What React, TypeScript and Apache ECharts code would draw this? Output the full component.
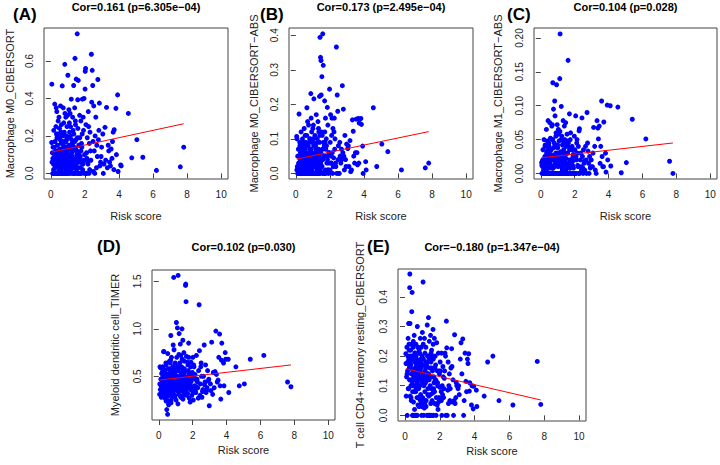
import React, { useEffect, useRef } from "react";
import * as echarts from "echarts";

// Shared risk score (x) for all panels
const riskScore = [
  4.10, 4.13, 4.55, 4.75, 5.05, 5.40, 6.20, 7.60, 7.80, 3.92,
  3.85, 3.82, 3.72, 3.66, 3.59, 3.54, 3.45, 3.37, 3.32, 3.27,
  3.18, 3.12, 3.05, 3.95, 3.62, 3.40, 3.22, 3.08, 3.70, 3.50,
  2.98, 2.92, 2.85, 2.79, 2.76, 2.73, 2.68, 2.64, 2.60, 2.55,
  2.50, 2.46, 2.43, 2.38, 2.35, 2.30, 2.26, 2.22, 2.18, 2.14,
  2.10, 2.06, 2.04, 2.01, 2.95, 2.88, 2.70, 2.58, 2.40, 2.28,
  2.20, 2.12, 2.08, 2.02, 2.82, 2.52, 2.33, 2.24, 2.16, 2.48,
  1.98, 1.95, 1.92, 1.88, 1.85, 1.82, 1.79, 1.76, 1.73, 1.70,
  1.69, 1.67, 1.64, 1.63, 1.61, 1.59, 1.58, 1.55, 1.53, 1.51,
  1.49, 1.48, 1.47, 1.45, 1.43, 1.42, 1.40, 1.39, 1.37, 1.35,
  1.34, 1.32, 1.30, 1.28, 1.26, 1.24, 1.22, 1.20, 1.18, 1.16,
  1.14, 1.12, 1.10, 1.08, 1.06, 1.04, 1.02, 1.00, 1.96, 1.90,
  1.86, 1.80, 1.74, 1.66, 1.56, 1.50, 1.44, 1.36, 1.27, 1.21,
  1.15, 1.09, 1.03, 1.93, 1.77, 1.62, 1.52, 1.41, 1.31, 1.19,
  1.11, 1.05, 1.84, 1.72, 1.57, 1.46, 1.33, 1.23, 1.13, 1.01,
  0.99, 0.97, 0.95, 0.93, 0.92, 0.90, 0.88, 0.86, 0.84, 0.82,
  0.81, 0.79, 0.77, 0.75, 0.73, 0.71, 0.69, 0.67, 0.65, 0.63,
  0.61, 0.59, 0.57, 0.55, 0.53, 0.51, 0.49, 0.47, 0.45, 0.43,
  0.41, 0.39, 0.37, 0.35, 0.33, 0.31, 0.29, 0.27, 0.25, 0.23,
  0.21, 0.19, 0.17, 0.15, 0.13, 0.11, 0.09, 0.07, 0.06, 0.05,
  0.98, 0.94, 0.89, 0.85, 0.80, 0.76, 0.72, 0.68, 0.64, 0.60,
  0.56, 0.52, 0.48, 0.44, 0.40, 0.36, 0.32, 0.28, 0.24, 0.20,
  0.96, 0.91, 0.87, 0.83, 0.78, 0.74, 0.70, 0.66, 0.62, 0.58,
  0.54, 0.50, 0.46, 0.42, 0.38, 0.34, 0.30, 0.26, 0.22, 0.18,
  1.07, 0.97, 0.88, 0.79, 0.70, 0.61, 0.52, 0.43, 0.34, 0.25,
  1.17, 1.25, 1.29, 1.38, 0.91, 0.82, 0.73, 0.64, 0.55, 0.46,
  0.16, 0.12, 0.37, 0.58, 0.77, 0.95, 1.13, 1.32, 1.54, 1.71,
  0.30, 0.44, 0.62, 0.85, 1.03, 1.21, 1.43, 1.65, 1.87, 2.09,
];

// (A) Macrophage M0_CIBERSORT
const macrophageM0 = [
  0.045, 0.040, 0.320, 0.083, 0.180, 0.086, 0.016, 0.035, 0.140, 0.419,
  0.100, 0.347, 0.233, 0.220, 0.080, 0.130, 0.060, 0.150, 0.030, 0.352,
  0.246, 0.050, 0.210, 0.010, 0.170, 0.120, 0.070, 0.000, 0.020, 0.040,
  0.140, 0.060, 0.375, 0.180, 0.501, 0.090, 0.030, 0.300, 0.200, 0.120,
  0.010, 0.469, 0.550, 0.636, 0.070, 0.220, 0.160, 0.250, 0.050, 0.190,
  0.110, 0.260, 0.560, 0.450, 0.090, 0.040, 0.150, 0.000, 0.380, 0.020,
  0.330, 0.080, 0.000, 0.545, 0.230, 0.360, 0.120, 0.000, 0.060, 0.170,
  0.100, 0.400, 0.230, 0.050, 0.396, 0.140, 0.000, 0.280, 0.090, 0.190,
  0.310, 0.060, 0.150, 0.000, 0.496, 0.240, 0.393, 0.745, 0.120, 0.020,
  0.503, 0.180, 0.080, 0.260, 0.000, 0.614, 0.350, 0.070, 0.140, 0.210,
  0.469, 0.030, 0.120, 0.300, 0.090, 0.000, 0.180, 0.396, 0.050, 0.250,
  0.130, 0.000, 0.220, 0.060, 0.340, 0.100, 0.010, 0.524, 0.000, 0.300,
  0.050, 0.160, 0.000, 0.110, 0.190, 0.040, 0.280, 0.000, 0.150, 0.080,
  0.200, 0.270, 0.040, 0.070, 0.120, 0.000, 0.100, 0.170, 0.230, 0.010,
  0.090, 0.150, 0.210, 0.030, 0.060, 0.130, 0.000, 0.110, 0.320, 0.190,
  0.000, 0.120, 0.250, 0.060, 0.180, 0.030, 0.300, 0.090, 0.000, 0.582,
  0.140, 0.220, 0.000, 0.070, 0.350, 0.110, 0.040, 0.467, 0.200, 0.000,
  0.160, 0.080, 0.360, 0.000, 0.130, 0.240, 0.020, 0.190, 0.100, 0.280,
  0.000, 0.150, 0.060, 0.330, 0.210, 0.000, 0.120, 0.040, 0.170, 0.370,
  0.090, 0.000, 0.230, 0.050, 0.140, 0.000, 0.110, 0.060, 0.476, 0.165,
  0.310, 0.000, 0.170, 0.040, 0.100, 0.270, 0.000, 0.130, 0.060, 0.220,
  0.010, 0.110, 0.300, 0.070, 0.000, 0.190, 0.350, 0.080, 0.000, 0.140,
  0.080, 0.200, 0.000, 0.320, 0.050, 0.150, 0.090, 0.000, 0.260, 0.030,
  0.180, 0.000, 0.120, 0.210, 0.040, 0.000, 0.250, 0.100, 0.070, 0.000,
  0.060, 0.140, 0.020, 0.100, 0.170, 0.000, 0.050, 0.120, 0.080, 0.030,
  0.040, 0.160, 0.070, 0.000, 0.110, 0.030, 0.200, 0.050, 0.090, 0.010,
  0.020, 0.080, 0.000, 0.040, 0.060, 0.080, 0.030, 0.050, 0.000, 0.070,
  0.100, 0.050, 0.020, 0.130, 0.000, 0.060, 0.040, 0.090, 0.020, 0.000,
];

// (B) Macrophage M0_CIBERSORT-ABS
const macrophageM0Abs = [
  0.034, 0.010, 0.190, 0.020, 0.085, 0.063, 0.010, 0.016, 0.030, 0.079,
  0.142, 0.159, 0.146, 0.159, 0.060, 0.157, 0.030, 0.122, 0.155, 0.010,
  0.095, 0.020, 0.072, 0.000, 0.025, 0.050, 0.005, 0.080, 0.030, 0.060,
  0.085, 0.040, 0.010, 0.186, 0.060, 0.254, 0.070, 0.030, 0.050, 0.000,
  0.080, 0.180, 0.227, 0.366, 0.020, 0.100, 0.160, 0.045, 0.130, 0.060,
  0.110, 0.030, 0.170, 0.010, 0.020, 0.110, 0.040, 0.090, 0.000, 0.070,
  0.020, 0.160, 0.050, 0.090, 0.050, 0.000, 0.030, 0.120, 0.000, 0.040,
  0.244, 0.060, 0.000, 0.140, 0.191, 0.030, 0.100, 0.070, 0.010, 0.120,
  0.210, 0.080, 0.000, 0.050, 0.313, 0.040, 0.404, 0.110, 0.280, 0.020,
  0.227, 0.327, 0.060, 0.336, 0.000, 0.394, 0.090, 0.223, 0.030, 0.120,
  0.070, 0.000, 0.150, 0.040, 0.100, 0.010, 0.060, 0.170, 0.000, 0.080,
  0.030, 0.110, 0.000, 0.050, 0.216, 0.090, 0.020, 0.130, 0.060, 0.010,
  0.040, 0.080, 0.160, 0.000, 0.070, 0.120, 0.010, 0.050, 0.090, 0.000,
  0.060, 0.000, 0.140, 0.030, 0.000, 0.090, 0.040, 0.110, 0.000, 0.070,
  0.020, 0.080, 0.050, 0.090, 0.000, 0.030, 0.130, 0.040, 0.000, 0.100,
  0.050, 0.000, 0.090, 0.120, 0.030, 0.160, 0.231, 0.000, 0.070, 0.040,
  0.100, 0.010, 0.060, 0.140, 0.000, 0.080, 0.150, 0.030, 0.190, 0.050,
  0.000, 0.090, 0.040, 0.110, 0.000, 0.060, 0.130, 0.020, 0.080, 0.000,
  0.050, 0.100, 0.000, 0.070, 0.030, 0.120, 0.000, 0.060, 0.040, 0.090,
  0.000, 0.172, 0.030, 0.070, 0.000, 0.050, 0.020, 0.100, 0.010, 0.107,
  0.000, 0.060, 0.030, 0.100, 0.050, 0.000, 0.080, 0.020, 0.110, 0.000,
  0.070, 0.000, 0.040, 0.090, 0.010, 0.060, 0.000, 0.030, 0.080, 0.000,
  0.020, 0.070, 0.000, 0.040, 0.090, 0.010, 0.050, 0.000, 0.030, 0.060,
  0.000, 0.040, 0.080, 0.000, 0.020, 0.060, 0.010, 0.000, 0.050, 0.030,
  0.040, 0.000, 0.020, 0.060, 0.000, 0.030, 0.010, 0.050, 0.000, 0.020,
  0.000, 0.050, 0.020, 0.000, 0.040, 0.010, 0.000, 0.030, 0.060, 0.000,
  0.010, 0.000, 0.030, 0.000, 0.020, 0.010, 0.040, 0.000, 0.020, 0.050,
  0.000, 0.020, 0.010, 0.030, 0.000, 0.040, 0.020, 0.000, 0.010, 0.030,
];

// (C) Macrophage M1_CIBERSORT-ABS
const macrophageM1Abs = [
  0.100, 0.011, 0.098, 0.001, 0.016, 0.080, 0.051, 0.018, 0.000, 0.101,
  0.002, 0.030, 0.076, 0.010, 0.107, 0.040, 0.070, 0.067, 0.078, 0.000,
  0.040, 0.068, 0.010, 0.020, 0.025, 0.051, 0.005, 0.030, 0.010, 0.015,
  0.020, 0.008, 0.000, 0.033, 0.045, 0.090, 0.020, 0.040, 0.005, 0.015,
  0.000, 0.025, 0.082, 0.010, 0.030, 0.000, 0.063, 0.040, 0.012, 0.050,
  0.020, 0.085, 0.000, 0.035, 0.010, 0.025, 0.000, 0.018, 0.005, 0.066,
  0.010, 0.045, 0.025, 0.000, 0.015, 0.035, 0.020, 0.000, 0.030, 0.008,
  0.055, 0.000, 0.028, 0.012, 0.040, 0.000, 0.020, 0.060, 0.008, 0.035,
  0.088, 0.015, 0.000, 0.045, 0.167, 0.010, 0.030, 0.058, 0.000, 0.022,
  0.040, 0.005, 0.075, 0.000, 0.028, 0.050, 0.012, 0.070, 0.000, 0.035,
  0.018, 0.078, 0.000, 0.042, 0.008, 0.055, 0.025, 0.000, 0.032, 0.015,
  0.206, 0.140, 0.000, 0.048, 0.020, 0.065, 0.010, 0.038, 0.000, 0.025,
  0.018, 0.000, 0.050, 0.010, 0.030, 0.000, 0.022, 0.045, 0.005, 0.099,
  0.000, 0.030, 0.058, 0.008, 0.000, 0.040, 0.015, 0.000, 0.028, 0.050,
  0.012, 0.000, 0.035, 0.020, 0.048, 0.000, 0.025, 0.010, 0.062, 0.000,
  0.042, 0.072, 0.000, 0.131, 0.020, 0.060, 0.030, 0.000, 0.085, 0.107,
  0.010, 0.045, 0.000, 0.095, 0.025, 0.134, 0.050, 0.008, 0.070, 0.000,
  0.035, 0.000, 0.052, 0.018, 0.075, 0.000, 0.040, 0.028, 0.000, 0.078,
  0.015, 0.048, 0.000, 0.030, 0.065, 0.005, 0.022, 0.000, 0.040, 0.012,
  0.000, 0.050, 0.020, 0.000, 0.035, 0.010, 0.018, 0.000, 0.012, 0.016,
  0.025, 0.000, 0.055, 0.012, 0.000, 0.038, 0.008, 0.072, 0.000, 0.028,
  0.000, 0.020, 0.045, 0.000, 0.015, 0.032, 0.000, 0.010, 0.025, 0.005,
  0.030, 0.000, 0.015, 0.040, 0.000, 0.022, 0.050, 0.000, 0.012, 0.035,
  0.008, 0.025, 0.000, 0.018, 0.030, 0.000, 0.010, 0.042, 0.000, 0.020,
  0.000, 0.015, 0.028, 0.000, 0.010, 0.020, 0.000, 0.035, 0.005, 0.000,
  0.022, 0.000, 0.012, 0.030, 0.000, 0.018, 0.008, 0.000, 0.025, 0.010,
  0.005, 0.020, 0.000, 0.012, 0.000, 0.028, 0.000, 0.015, 0.000, 0.008,
  0.018, 0.000, 0.010, 0.000, 0.022, 0.000, 0.012, 0.000, 0.018, 0.000,
];

// (D) Myeloid dendritic cell_TIMER
const myeloidDC = [
  0.680, 0.330, 0.600, 0.400, 0.420, 0.680, 0.720, 0.440, 0.390, 0.750,
  0.400, 0.640, 0.850, 0.260, 0.945, 0.700, 0.440, 0.977, 0.550, 0.380,
  0.310, 0.860, 0.420, 0.680, 0.400, 0.520, 0.540, 0.350, 0.670, 0.460,
  0.190, 0.450, 0.380, 0.330, 0.620, 0.440, 0.830, 0.500, 0.360, 0.280,
  0.640, 0.420, 0.300, 1.254, 0.560, 0.380, 0.470, 0.720, 0.330, 0.520,
  0.400, 0.620, 0.250, 0.700, 0.470, 0.560, 0.410, 0.340, 0.770, 0.440,
  0.390, 0.480, 0.600, 0.330, 0.350, 0.500, 0.270, 0.450, 0.360, 0.600,
  0.540, 0.300, 0.450, 0.600, 0.230, 0.380, 0.520, 0.850, 0.410, 0.320,
  0.650, 0.440, 0.300, 0.710, 1.286, 1.472, 1.458, 0.500, 0.360, 0.580,
  0.420, 0.750, 0.330, 0.540, 0.260, 0.880, 0.470, 0.380, 1.000, 0.600,
  0.350, 0.530, 0.720, 0.290, 0.460, 0.640, 0.400, 0.950, 0.310, 0.560,
  1.563, 0.430, 1.010, 0.350, 0.700, 1.067, 0.250, 0.480, 0.380, 0.650,
  0.420, 0.270, 0.560, 0.480, 0.390, 0.660, 0.300, 0.510, 0.840, 0.420,
  0.340, 0.600, 0.450, 0.500, 0.700, 0.360, 0.540, 0.440, 0.280, 0.730,
  0.500, 0.370, 0.460, 0.620, 0.310, 0.400, 0.590, 0.480, 0.210, 0.560,
  0.390, 0.640, 0.280, 0.520, 0.430, 0.780, 1.542, 0.350, 0.600, 0.470,
  0.330, 0.550, 0.420, 0.700, 0.250, 0.930, 0.380, 0.490, 0.300, 0.660,
  0.450, 0.220, 0.580, 0.360, 0.740, 0.290, 0.510, 0.150, 0.400, 0.620,
  0.340, 0.470, 0.270, 0.560, 0.420, 0.760, 0.310, 0.500, 0.380, 0.600,
  0.440, 0.330, 0.530, 0.280, 0.400, 0.590, 0.360, 0.600, 0.420, 0.310,
  0.560, 0.300, 0.440, 0.830, 0.370, 0.480, 0.220, 0.640, 0.400, 0.530,
  0.390, 0.100, 0.460, 0.270, 0.570, 0.350, 0.440, 0.760, 0.300, 0.480,
  0.470, 0.350, 0.600, 0.290, 0.530, 0.410, 0.670, 0.320, 0.450, 0.200,
  0.520, 0.380, 0.250, 0.640, 0.420, 0.330, 0.490, 0.370, 0.550, 0.410,
  0.440, 0.520, 0.360, 0.470, 0.580, 0.310, 0.430, 0.240, 0.500, 0.380,
  0.610, 0.450, 0.370, 0.680, 0.480, 0.560, 0.410, 0.300, 0.470, 0.350,
  0.400, 0.470, 0.530, 0.430, 0.360, 0.490, 0.420, 0.380, 0.450, 0.410,
  0.460, 0.390, 0.340, 0.520, 0.410, 0.470, 0.550, 0.430, 0.360, 0.480,
];

// (E) T cell CD4+ memory resting_CIBERSORT
const cd4MemoryResting = [
  0.085, 0.030, 0.065, 0.180, 0.200, 0.050, 0.035, 0.182, 0.037, 0.022,
  0.100, 0.035, 0.110, 0.208, 0.190, 0.080, 0.210, 0.000, 0.258, 0.140,
  0.190, 0.070, 0.090, 0.098, 0.175, 0.050, 0.245, 0.100, 0.082, 0.115,
  0.100, 0.060, 0.272, 0.000, 0.120, 0.045, 0.225, 0.160, 0.090, 0.140,
  0.040, 0.085, 0.000, 0.318, 0.000, 0.210, 0.125, 0.060, 0.165, 0.100,
  0.210, 0.055, 0.150, 0.095, 0.110, 0.040, 0.165, 0.050, 0.228, 0.150,
  0.130, 0.000, 0.080, 0.180, 0.050, 0.100, 0.200, 0.090, 0.070, 0.180,
  0.140, 0.060, 0.210, 0.100, 0.035, 0.245, 0.000, 0.170, 0.120, 0.080,
  0.260, 0.110, 0.000, 0.190, 0.290, 0.075, 0.150, 0.000, 0.220, 0.130,
  0.180, 0.040, 0.270, 0.100, 0.160, 0.000, 0.250, 0.120, 0.065, 0.330,
  0.200, 0.090, 0.140, 0.305, 0.000, 0.170, 0.050, 0.230, 0.110, 0.150,
  0.080, 0.260, 0.130, 0.000, 0.190, 0.450, 0.060, 0.280, 0.150, 0.020,
  0.150, 0.060, 0.200, 0.130, 0.050, 0.210, 0.000, 0.140, 0.180, 0.030,
  0.210, 0.100, 0.170, 0.045, 0.120, 0.240, 0.090, 0.190, 0.070, 0.160,
  0.025, 0.240, 0.110, 0.160, 0.200, 0.070, 0.120, 0.180, 0.040, 0.140,
  0.200, 0.110, 0.000, 0.230, 0.160, 0.070, 0.260, 0.180, 0.055, 0.130,
  0.220, 0.090, 0.170, 0.035, 0.140, 0.300, 0.060, 0.190, 0.120, 0.240,
  0.000, 0.160, 0.210, 0.080, 0.270, 0.130, 0.045, 0.230, 0.100, 0.190,
  0.415, 0.350, 0.140, 0.060, 0.220, 0.180, 0.310, 0.431, 0.160, 0.240,
  0.310, 0.090, 0.200, 0.150, 0.000, 0.230, 0.130, 0.065, 0.175, 0.208,
  0.130, 0.180, 0.050, 0.210, 0.030, 0.150, 0.100, 0.000, 0.200, 0.120,
  0.180, 0.000, 0.250, 0.120, 0.200, 0.050, 0.160, 0.477, 0.220, 0.090,
  0.040, 0.190, 0.120, 0.150, 0.060, 0.230, 0.000, 0.170, 0.080, 0.210,
  0.140, 0.200, 0.000, 0.110, 0.240, 0.170, 0.065, 0.120, 0.190, 0.260,
  0.120, 0.030, 0.150, 0.180, 0.110, 0.200, 0.140, 0.000, 0.100, 0.170,
  0.050, 0.130, 0.200, 0.000, 0.170, 0.210, 0.130, 0.090, 0.020, 0.150,
  0.180, 0.140, 0.120, 0.100, 0.160, 0.190, 0.130, 0.000, 0.160, 0.040,
  0.200, 0.080, 0.150, 0.100, 0.045, 0.120, 0.200, 0.090, 0.110, 0.050,
];

const panelLetters = ["(A)", "(B)", "(C)", "(D)", "(E)"];
const panelTitles = [
  "Cor=0.161 (p=6.305e\u221204)",
  "Cor=0.173 (p=2.495e\u221204)",
  "Cor=0.104 (p=0.028)",
  "Cor=0.102 (p=0.030)",
  "Cor=\u22120.180 (p=1.347e\u221204)",
];
const yAxisNames = [
  "Macrophage M0_CIBERSORT",
  "Macrophage M0_CIBERSORT\u2212ABS",
  "Macrophage M1_CIBERSORT\u2212ABS",
  "Myeloid dendritic cell_TIMER",
  "T cell CD4+ memory resting_CIBERSORT",
];
const xAxisName = "Risk score";
const xTickValues = [0, 2, 4, 6, 8, 10];
const yTickValuesA = [0, 0.2, 0.4, 0.6];
const yTickValuesB = [0, 0.1, 0.2, 0.3, 0.4];
const yTickValuesC = [0, 0.05, 0.1, 0.15, 0.2];
const yTickValuesD = [0.5, 1.0, 1.5];
const yTickValuesE = [0, 0.1, 0.2, 0.3, 0.4];
const yTickDecimals = [1, 1, 2, 1, 1];
const fitIntercept = [0.112, 0.041, 0.023, 0.46, 0.158];
const fitSlope = [0.0196, 0.01026, 0.00282, 0.0205, -0.0136];

const panelValues = [macrophageM0, macrophageM0Abs, macrophageM1Abs, myeloidDC, cd4MemoryResting];
const panelYTicks = [yTickValuesA, yTickValuesB, yTickValuesC, yTickValuesD, yTickValuesE];

// layout
const grids = [
  { left: 44, top: 28, width: 184, height: 151 },
  { left: 289, top: 28, width: 184, height: 151 },
  { left: 534, top: 28, width: 183, height: 151 },
  { left: 152, top: 270, width: 183, height: 150 },
  { left: 398, top: 269, width: 188, height: 152 },
];
const yLimits = [
  [-0.03, 0.776],
  [-0.0162, 0.421],
  [-0.0082, 0.2148],
  [0.04, 1.62],
  [-0.019, 0.494],
];
const letterPos = [
  [13, 14],
  [260, 14],
  [507, 14],
  [97, 246],
  [367, 246],
];
const yNameGaps = [29, 30, 31, 32, 33];
const xNameGaps = [31, 31, 31, 24, 24];

const FONT = "'Liberation Sans', Arial, Helvetica, sans-serif";

export default function App() {
  const ref = useRef<HTMLDivElement>(null);
  useEffect(() => {
    if (!ref.current) return;
    const chart = echarts.init(ref.current, undefined, { renderer: "svg" });
    const xMin = Math.min(...riskScore);
    const xMax = Math.max(...riskScore);

    const series: any[] = [];
    panelValues.forEach((vals, i) => {
      series.push({
        type: "scatter",
        xAxisIndex: i,
        yAxisIndex: i,
        symbol: "circle",
        symbolSize: 5,
        itemStyle: { color: "#0000FF", opacity: 1 },
        data: riskScore.map((x, k) => [x, vals[k]]),
        silent: true,
      });
      series.push({
        type: "line",
        xAxisIndex: i,
        yAxisIndex: i,
        symbol: "none",
        lineStyle: { color: "#FF0000", width: 1 },
        data: [
          [xMin, fitIntercept[i] + fitSlope[i] * xMin],
          [xMax, fitIntercept[i] + fitSlope[i] * xMax],
        ],
        silent: true,
        z: 3,
      });
    });

    const graphics: any[] = [];
    grids.forEach((g, i) => {
      graphics.push({
        type: "text",
        x: g.left + g.width / 2,
        y: i < 3 ? 7 : 247,
        style: {
          text: panelTitles[i],
          font: `bold 11px ${FONT}`,
          fill: "#000",
          textAlign: "center",
          textVerticalAlign: "middle",
        },
      });
      graphics.push({
        type: "text",
        x: letterPos[i][0],
        y: letterPos[i][1],
        style: {
          text: panelLetters[i],
          font: `bold 17px ${FONT}`,
          fill: "#000",
          textAlign: "left",
          textVerticalAlign: "middle",
        },
      });
    });

    chart.setOption({
      animation: false,
      grid: grids.map((g) => ({
        ...g,
        show: true,
        borderColor: "#444",
        borderWidth: 1,
        backgroundColor: "transparent",
        containLabel: false,
      })),
      xAxis: grids.map((_, i) => ({
        type: "value",
        gridIndex: i,
        min: -0.4,
        max: 10.4,
        name: xAxisName,
        nameLocation: "middle",
        nameGap: xNameGaps[i],
        nameTextStyle: { fontFamily: FONT, fontSize: 11, color: "#222" },
        axisLine: { show: false },
        splitLine: { show: false },
        axisTick: {
          show: true,
          inside: false,
          length: 5,
          customValues: xTickValues,
          lineStyle: { color: "#444" },
        },
        axisLabel: {
          customValues: xTickValues,
          fontFamily: FONT,
          fontSize: 10,
          color: "#222",
          margin: 10,
          formatter: (v: number) => String(v),
        },
      })),
      yAxis: grids.map((_, i) => ({
        type: "value",
        gridIndex: i,
        min: yLimits[i][0],
        max: yLimits[i][1],
        name: yAxisNames[i],
        nameLocation: "middle",
        nameGap: yNameGaps[i],
        nameRotate: 90,
        nameTextStyle: { fontFamily: FONT, fontSize: 11, color: "#222" },
        axisLine: { show: false },
        splitLine: { show: false },
        axisTick: {
          show: true,
          inside: false,
          length: 5,
          customValues: panelYTicks[i],
          lineStyle: { color: "#444" },
        },
        axisLabel: {
          customValues: panelYTicks[i],
          rotate: 90,
          fontFamily: FONT,
          fontSize: 10,
          color: "#222",
          margin: 10,
          formatter: (v: number) => v.toFixed(yTickDecimals[i]),
        },
      })),
      series,
      graphic: graphics,
    });
    return () => chart.dispose();
  }, []);
  return (
    <div
      ref={ref}
      style={{ position: "absolute", left: 0, top: 0, width: 720, height: 465, background: "#fff" }}
    />
  );
}
